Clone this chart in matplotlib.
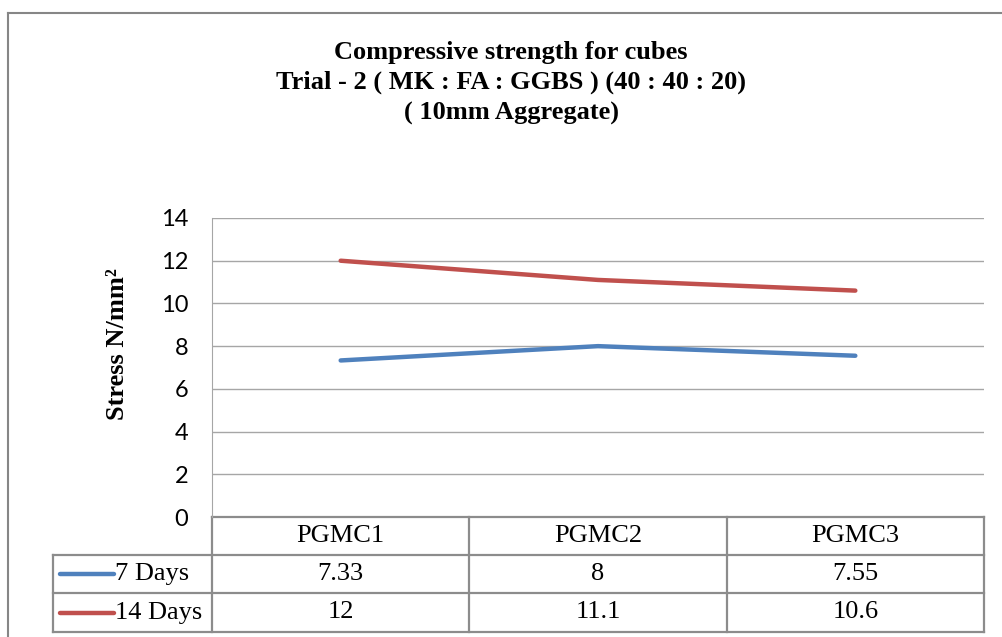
import numpy as np
import matplotlib.pyplot as plt
from matplotlib.transforms import blended_transform_factory
from matplotlib.lines import Line2D

# data
categories = ["PGMC1", "PGMC2", "PGMC3"]
series_names = ["7 Days", "14 Days"]
days7 = [7.33, 8, 7.55]
days14 = [12, 11.1, 10.6]
cell_text = [["7.33", "8", "7.55"], ["12", "11.1", "10.6"]]
colors = ["#4F81BD", "#C0504D"]

W, H = 1002, 637
fig = plt.figure(figsize=(W / 100, H / 100), dpi=100)

# plot area in pixel layout
L, R, T, B = 212, 984, 218, 517
ax = fig.add_axes([L / W, (H - B) / H, (R - L) / W, (B - T) / H])

x = np.arange(len(categories))
for vals, c in zip([days7, days14], colors):
    ax.plot(x, vals, color=c, lw=3.2, solid_capstyle='round')

ax.set_xlim(-0.5, len(categories) - 0.5)
ax.set_ylim(0, 14)
ax.set_yticks(range(0, 15, 2))
ax.set_xticks([])
ax.grid(axis='y', color='#A6A6A6', lw=1)
ax.set_axisbelow(True)
for s in ['top', 'right', 'bottom']:
    ax.spines[s].set_visible(False)
ax.spines['left'].set_color('#A6A6A6')
ax.tick_params(axis='y', length=0, pad=17, labelsize=17)
for lab in ax.get_yticklabels():
    lab.set_fontfamily('Lato')

# data table under the plot
tr = blended_transform_factory(ax.transData, ax.transAxes)
def ay(py):
    return (B - py) / (B - T)
def axx(px):
    return (px - L) / (R - L)

rows = [517, 555, 593, 632]
gc = '#8C8C8C'
kw = dict(color=gc, lw=1.6, clip_on=False)
# horizontal lines
ax.add_line(Line2D([-0.5, 2.5], [ay(rows[0])] * 2, transform=tr, **kw))
for py in rows[1:]:
    ax.add_line(Line2D([axx(53), 1], [ay(py)] * 2, transform=ax.transAxes, **kw))
# vertical lines
for xb in np.arange(-0.5, len(categories), 1.0):
    ax.add_line(Line2D([xb, xb], [ay(rows[0]), ay(rows[3])], transform=tr, **kw))
ax.add_line(Line2D([axx(53)] * 2, [ay(rows[1]), ay(rows[3])], transform=ax.transAxes, **kw))

tfont = dict(family='Liberation Serif', fontsize=19)
for i, cat in enumerate(categories):
    ax.text(i, ay((rows[0] + rows[1]) / 2), cat, transform=tr, ha='center', va='center', **tfont)
for r, (name, c) in enumerate(zip(series_names, colors)):
    yc = ay((rows[r + 1] + rows[r + 2]) / 2)
    ax.add_line(Line2D([axx(60), axx(114)], [yc, yc], transform=ax.transAxes,
                       color=c, lw=3.2, solid_capstyle='round', clip_on=False))
    ax.text(axx(115), yc, name, transform=ax.transAxes, ha='left', va='center', **tfont)
    for i, t in enumerate(cell_text[r]):
        ax.text(i, yc, t, transform=tr, ha='center', va='center', **tfont)

# title and axis label
fig.text(511 / W, 1 - 83 / H,
         "Compressive strength for cubes\nTrial - 2 ( MK : FA : GGBS ) (40 : 40 : 20)\n( 10mm Aggregate)",
         ha='center', va='center', family='Liberation Serif', fontweight='bold',
         fontsize=19, linespacing=1.42)
fig.text(118 / W, 1 - 344 / H, "Stress N/mm²", rotation=90, ha='center', va='center',
         family='Liberation Serif', fontweight='bold', fontsize=19)

# chart border
fig.add_artist(Line2D([8 / W, 8 / W], [0, 1 - 13 / H], color='#868686', lw=1.5))
fig.add_artist(Line2D([8 / W, 1], [1 - 13 / H] * 2, color='#868686', lw=1.5))

fig.savefig("out.png", dpi=100)
